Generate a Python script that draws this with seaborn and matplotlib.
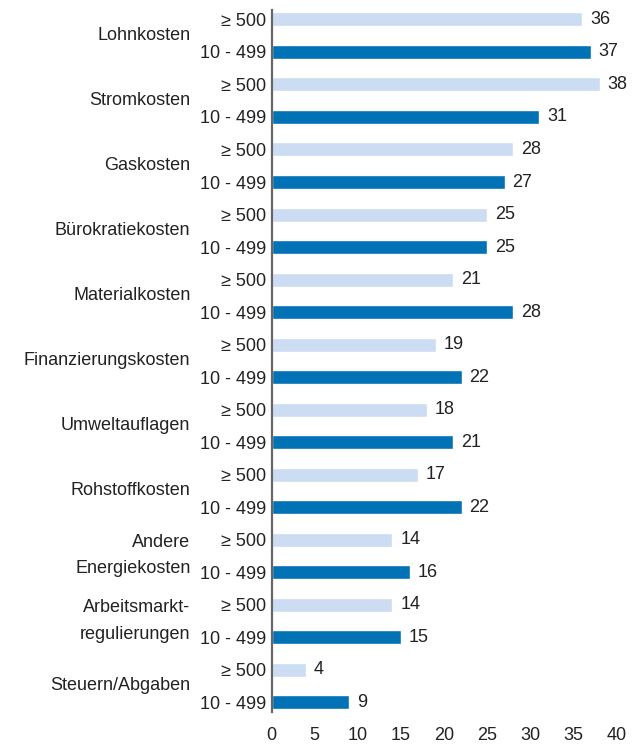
import pandas as pd
import matplotlib.pyplot as plt
import seaborn as sns

categories = ["Lohnkosten", "Stromkosten", "Gaskosten", "Bürokratiekosten",
              "Materialkosten", "Finanzierungskosten", "Umweltauflagen",
              "Rohstoffkosten", "Andere\nEnergiekosten", "Arbeitsmarkt-\nregulierungen",
              "Steuern/Abgaben"]
groups = ["≥ 500", "10 - 499"]
large = [36, 38, 28, 25, 21, 19, 18, 17, 14, 14, 4]
small = [37, 31, 27, 25, 28, 22, 21, 22, 16, 15, 9]
xticks = [0, 5, 10, 15, 20, 25, 30, 35, 40]

colors = {"≥ 500": "#ccdcf2", "10 - 499": "#0072b5"}

rows = []
for cat, a, b in zip(categories, large, small):
    rows.append({"row": cat + "|" + groups[0], "group": groups[0], "value": a})
    rows.append({"row": cat + "|" + groups[1], "group": groups[1], "value": b})
df = pd.DataFrame(rows)

sns.set_style("white")
plt.rcParams['font.family'] = ['Liberation Sans', 'DejaVu Sans']
fs = 13

fig = plt.figure(figsize=(6.36, 7.44), dpi=100)
ax = fig.add_axes([0.427, 0.043, 0.543, 0.944])

sns.barplot(data=df, y="row", x="value", hue="group", palette=colors,
            dodge=False, orient="h", width=0.43, saturation=1, legend=False, ax=ax)

# value labels next to the bars
for i, v in enumerate(df["value"]):
    ax.text(v + 0.9, i, str(v), va="center", ha="left", fontsize=fs, color="#222222")

ax.set_xlim(0, 40)
ax.set_ylim(len(df) - 0.7, -0.3)
ax.set_xticks(xticks)
ax.set_xticklabels([str(t) for t in xticks])
ax.set_yticks(range(len(df)))
ax.set_yticklabels(df["group"])
ax.tick_params(axis="both", length=0, colors="#222222", labelsize=fs)
ax.tick_params(axis="x", pad=11)
ax.tick_params(axis="y", pad=4)
ax.set_xlabel("")
ax.set_ylabel("")

for side in ["top", "right", "bottom"]:
    ax.spines[side].set_visible(False)
ax.spines["left"].set_color("#666666")
ax.spines["left"].set_linewidth(1.6)

# category names centred between each pair of bars
trans = ax.get_yaxis_transform()
for k, cat in enumerate(categories):
    ax.text(-0.235, 2 * k + 0.5, cat, transform=trans, ha="right", va="center",
            multialignment="right", linespacing=1.7, fontsize=fs, color="#222222")

fig.savefig("out.png", dpi=100)
